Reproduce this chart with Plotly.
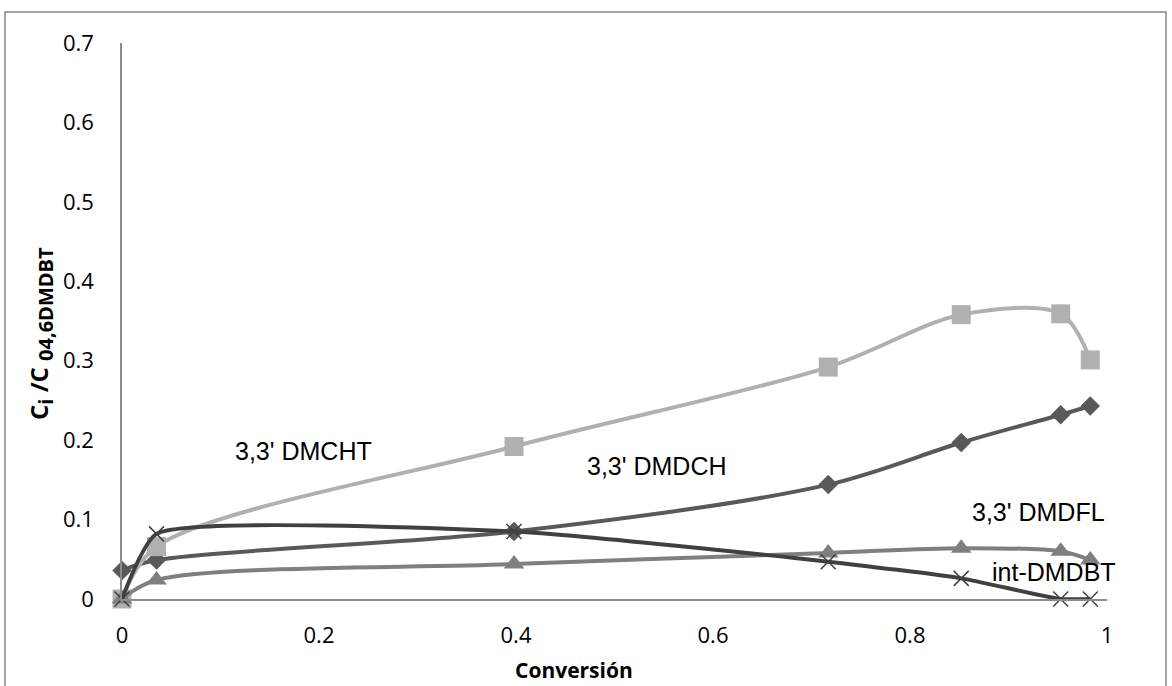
import plotly.graph_objects as go

# Data
conversion = [0, 0.035, 0.398, 0.717, 0.852, 0.953, 0.983]
dmdch = [0.036, 0.049, 0.085, 0.144, 0.197, 0.232, 0.243]      # diamonds
dmcht = [0, 0.066, 0.192, 0.292, 0.358, 0.359, 0.301]          # squares
dmdfl = [0, 0.024, 0.044, 0.058, 0.064, 0.060, 0.049]          # triangles
int_dmdbt = [0, 0.082, 0.085, 0.047, 0.026, 0, 0]               # crosses

x_ticks = [0, 0.2, 0.4, 0.6, 0.8, 1]
x_tick_text = ["0", "0.2", "0.4", "0.6", "0.8", "1"]
y_ticks = [0, 0.1, 0.2, 0.3, 0.4, 0.5, 0.6, 0.7]
y_tick_text = ["0", "0.1", "0.2", "0.3", "0.4", "0.5", "0.6", "0.7"]

labels = ["3,3' DMCHT", "3,3' DMDCH", "3,3' DMDFL", "int-DMDBT"]
label_x = [0.184, 0.543, 0.930, 0.946]
label_y = [0.186, 0.1675, 0.1096, 0.034]

fig = go.Figure()

def add(y, name, color, symbol, size, smoothing, mline=None):
    marker = dict(symbol=symbol, size=size, color=color)
    if mline:
        marker["line"] = dict(color=color, width=mline)
    fig.add_trace(go.Scatter(
        x=conversion, y=y, name=name, mode="lines+markers",
        line=dict(color=color, width=4, shape="spline", smoothing=smoothing),
        marker=marker, cliponaxis=False, showlegend=False))

add(dmdch, "3,3' DMDCH", "#595959", "diamond", 15, 0.9)
add(dmcht, "3,3' DMCHT", "#b0b0b0", "square", 19, 0.9)
add(dmdfl, "3,3' DMDFL", "#7f7f7f", "triangle-up", 18, 0.9)
add(int_dmdbt, "int-DMDBT", "#404040", "x-thin-open", 15, 0.5, mline=1.5)

for t, ax, ay in zip(labels, label_x, label_y):
    fig.add_annotation(x=ax, y=ay, xref="x", yref="y", text=t, showarrow=False,
                       xanchor="center", yanchor="middle",
                       font=dict(family="Liberation Sans, Arial", size=25, color="#000000"))

# axis titles
fig.add_annotation(x=(574 - 122) / 985, y=(599 - 670) / 556, xref="paper", yref="paper",
                   text="<b>Conversión</b>", showarrow=False,
                   xanchor="center", yanchor="middle",
                   font=dict(family="Open Sans", size=21, color="#000000"))
fig.add_annotation(x=(40 - 122) / 985, y=(599 - 334) / 556, xref="paper", yref="paper",
                   text="<b>C<sub><span style='font-size:20px'>i</span></sub> /C "
                        "<sub><span style='font-size:20px'>04,6DMDBT</span></sub></b>",
                   showarrow=False, textangle=-90, xanchor="center", yanchor="middle",
                   font=dict(family="Open Sans", size=24, color="#000000"))

# chart border
fig.add_shape(type="rect", xref="paper", yref="paper",
              x0=(5 - 122) / 985, x1=(1166 - 122) / 985,
              y0=(599 - 690) / 556, y1=(599 - 12) / 556,
              line=dict(color="#868686", width=1.5), fillcolor="rgba(0,0,0,0)")

fig.update_layout(
    width=1172, height=686,
    margin=dict(l=122, r=65, t=43, b=87),
    paper_bgcolor="white", plot_bgcolor="white",
    xaxis=dict(range=[0, 1], tickvals=x_ticks, ticktext=x_tick_text,
               showgrid=False, zeroline=False, showline=True, linecolor="#8c8c8c",
               linewidth=1.5, ticks="", ticklabelstandoff=16,
               tickfont=dict(family="Open Sans", size=22, color="#000000")),
    yaxis=dict(range=[0, 0.7], tickvals=y_ticks, ticktext=y_tick_text,
               showgrid=False, zeroline=False, showline=True, linecolor="#8c8c8c",
               linewidth=1.5, ticks="", ticklabelstandoff=22,
               tickfont=dict(family="Open Sans", size=22, color="#000000")),
)

fig.write_html("out.html", config={"displayModeBar": False},
               post_script="document.body.style.margin='0';document.body.style.overflow='hidden';")
